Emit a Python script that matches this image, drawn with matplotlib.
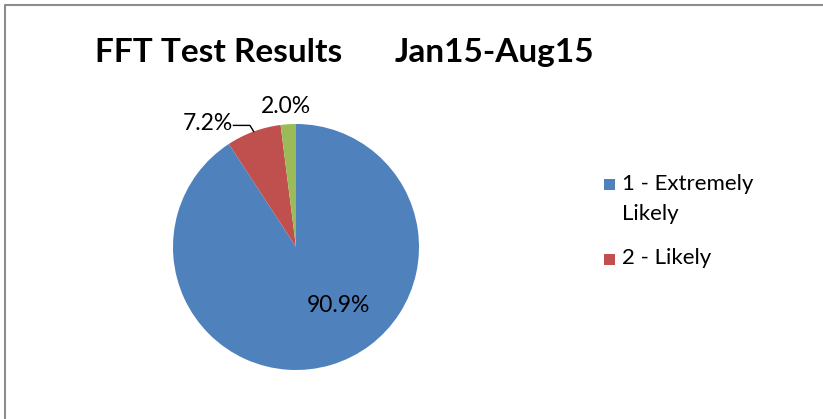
import numpy as np
import matplotlib.pyplot as plt
from matplotlib.patches import Rectangle
from matplotlib.lines import Line2D

# data
categories = ["1 - Extremely\nLikely", "2 - Likely", "3 - Neither likely nor unlikely"]
values = [90.9, 7.2, 2.0]
pct_labels = ["90.9%", "7.2%", "2.0%"]
colors = ["#4F81BD", "#C0504D", "#9BBB59"]
legend_count = 2  # the third entry is cut off in the original chart

plt.rcParams["font.family"] = ["Lato", "DejaVu Sans"]

W, H = 823, 419
fig = plt.figure(figsize=(W / 100, H / 100), dpi=100)

# pie axes: centre (296, 247) px, radius 123 px
cx, cy, r = 296, 247, 123
ax = fig.add_axes([(cx - r) / W, (H - cy - r) / H, 2 * r / W, 2 * r / H])
wedges, _ = ax.pie(values, colors=colors, startangle=90, counterclock=False,
                   radius=1, wedgeprops=dict(linewidth=0))
ax.set_xlim(-1, 1)
ax.set_ylim(-1, 1)
ax.set_aspect("equal")
ax.axis("off")

# percentage labels (radius, angle shift from slice middle)
placement = [(0.63, 17), (1.19, 17), (1.09, 0.8)]
for w, txt, (rad, shift) in zip(wedges, pct_labels, placement):
    mid = np.deg2rad((w.theta1 + w.theta2) / 2)
    a = mid + np.deg2rad(shift)
    tx, ty = rad * np.cos(a), rad * np.sin(a)
    ax.text(tx, ty, txt, ha="center", va="baseline", fontsize=16.5,
            color="black", clip_on=False)
    if txt == "7.2%":
        ex, ey = np.cos(mid), np.sin(mid)
        ly = ty + 0.04
        ax.plot([tx + 0.21, ex - 0.03, ex], [ly, ly, ey], color="black",
                lw=1, clip_on=False)

# title
fig.text(95 / W, 1 - 62 / H, "FFT Test Results", fontsize=24,
         fontweight="bold", va="baseline")
fig.text(395 / W, 1 - 62 / H, "Jan15-Aug15", fontsize=24,
         fontweight="bold", va="baseline")

# legend (drawn by hand: square sits on the first line of each entry)
y = 190
line_pitch, entry_gap = 29.5, 45
for cat, c in zip(categories[:legend_count], colors):
    fig.add_artist(Rectangle((604 / W, 1 - y / H), 11 / W, 11 / H,
                             transform=fig.transFigure, facecolor=c,
                             edgecolor="none"))
    lines = cat.split("\n")
    for i, line in enumerate(lines):
        fig.text(622 / W, 1 - (y + i * line_pitch) / H, line, fontsize=16,
                 va="baseline")
    y += (len(lines) - 1) * line_pitch + entry_gap

# chart border (top and left edges visible)
fig.add_artist(Line2D([5 / W, 5 / W, 1], [0, 1 - 5 / H, 1 - 5 / H],
                      transform=fig.transFigure, color="#8c8c8c", lw=1.5))

fig.savefig("out.png", dpi=100, facecolor="white")
